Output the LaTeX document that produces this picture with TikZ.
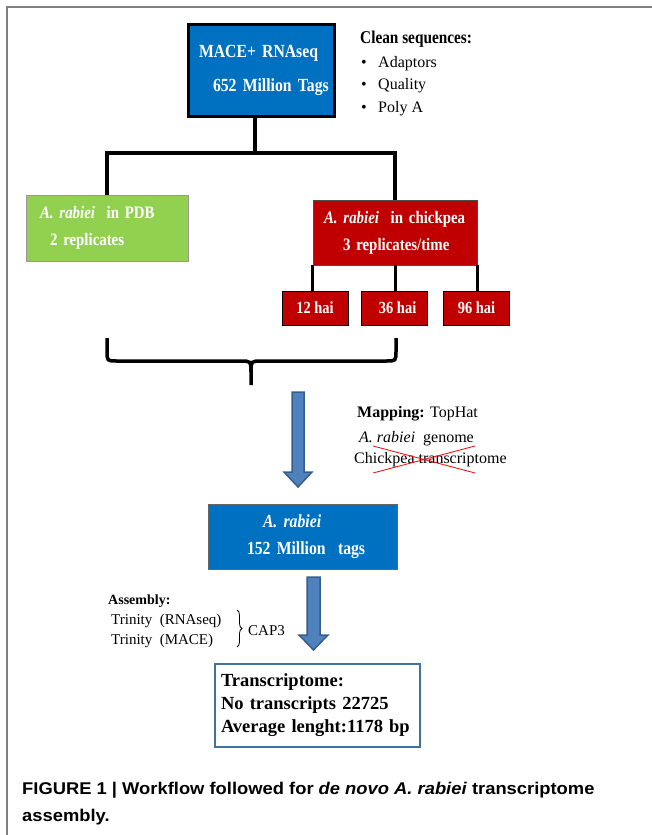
\documentclass[tikz,border=0pt]{standalone}
\usepackage{fontspec}
\setmainfont{Liberation Serif}
\newfontfamily\boxfont[FakeStretch=0.85]{Liberation Serif}
\newfontfamily\capfont[FakeStretch=1.08]{Liberation Sans}
\usetikzlibrary{calc,decorations.pathreplacing}
\definecolor{maceblue}{HTML}{0070C0}
\definecolor{pdbgreen}{HTML}{92D050}
\definecolor{chickred}{HTML}{C00000}
\definecolor{arrfill}{HTML}{4F81BD}
\definecolor{arrdraw}{HTML}{385D8A}
\definecolor{tombox}{HTML}{41719C}
\def\rab{\textit{A. rabiei}}
\newcommand\fatarrow[3]{\filldraw[fat] let \p1=(#1), \p2=(#2) in
  (\x1-#3pt,\y1) -- (\x1+#3pt,\y1) -- (\x1+#3pt,\y2+15pt) -- (\x1+#3pt+8pt,\y2+15pt)
  -- (\x2,\y2) -- (\x1-#3pt-8pt,\y2+15pt) -- (\x1-#3pt,\y2+15pt) -- cycle;}

\begin{document}
\begin{tikzpicture}[x=1pt,y=-1pt,
  box/.style={minimum height=#1,inner ysep=0pt,align=left,text=white},
  hai/.style={fill=chickred,draw=black,line width=1pt,minimum width=66pt,minimum height=34pt,
    inner sep=0pt,text=white,font=\boxfont\fontsize{17}{18}\bfseries\selectfont},
  tree/.style={line width=4pt},
  curly/.style={line width=3.5pt},
  fat/.style={fill=arrfill,draw=arrdraw,line width=1.5pt},
  txt/.style={anchor=base west,inner sep=0pt,font=\fontsize{16}{18}\selectfont}]
  \useasboundingbox (0,0) rectangle (652,835);
  \draw[gray,line width=1.5pt] (7,835) -- (7,7) -- (652,7);
  \node[box=92pt,fill=maceblue,draw=black,line width=3pt,text width=124pt,inner xsep=11pt,
    font=\boxfont\fontsize{18.5}{34}\bfseries\selectfont] (mace) at (261,70)
  {\mbox{MACE+ RNAseq}\\\mbox{\hspace*{14pt}652 Million Tags}};
  \node[txt,font=\boxfont\fontsize{18}{18}\bfseries\selectfont] (clean) at (360,43) {Clean sequences:};
  \foreach \t [count=\i] in {Adaptors,Quality,Poly A} {
    \node[txt] (dot\i) at (361,44.5+\i*22.5) {\textbullet};
    \node[txt] (item\i) at (378,44.5+\i*22.5) {\t}; }
  \node[box=66pt,fill=pdbgreen,draw=black!40,line width=0.8pt,text width=134pt,inner xsep=14pt,
    font=\boxfont\fontsize{17.5}{27}\bfseries\selectfont] (pdb) at (107,228)
  {\mbox{\rab\ \ in PDB}\\\mbox{\hspace*{10pt}2 replicates}};
  \node[box=65pt,fill=chickred,draw=black!70,line width=0.8pt,text width=142pt,inner xsep=11pt,
    font=\boxfont\fontsize{17.5}{27}\bfseries\selectfont] (chick) at (395,232.5)
  {\mbox{\rab\ \ in chickpea}\\\mbox{\hspace*{19pt}3 replicates/time}};
  \coordinate (split) at (255,153);
  \draw[tree] (split |- mace.south) -- (split);
  \draw[tree] (pdb.north) |- (split) -| (chick.north);
  \foreach \n/\x/\t in {h12/315/12 hai,h36/394/\ \ 36 hai,h96/476.5/96 hai}
  \node[hai] (\n) at (\x,308) {\t};
  \foreach \a/\n in {south west/h12,south/h36,south east/h96}
  \draw[tree,line width=3pt] (chick.\a) -- (chick.\a |- \n.north);
  \draw[curly] (107,338) -- (107,351) .. controls (107,361) .. (117,361) -- (240,361)
  .. controls (251,361) .. (251,372) -- (251,385);
  \draw[curly] (396,338) -- (396,351) .. controls (396,361) .. (386,361) -- (262,361)
  .. controls (251,361) .. (251,372);
  \coordinate (a1s) at (298,392); \coordinate (a1e) at (298,487);
  \fatarrow{a1s}{a1e}{6}
  \node[txt] (map) at (357,417) {\textbf{Mapping:} TopHat};
  \node[txt] (genome) at (359,442) {\rab\ \ genome};
  \node[txt] (chtr) at (354,463) {Chickpea transcriptome};
  \draw[red,line width=0.8pt] (373,446) -- (475,473) (373,473) -- (475,446);
  \node[box=65pt,fill=maceblue,draw=black!60,line width=0.8pt,text width=111pt,inner xsep=39pt,
    font=\boxfont\fontsize{18.5}{27}\bfseries\selectfont] (tags) at (302.5,536.5)
  {\mbox{\hspace*{16pt}\rab}\\\mbox{152 Million\ \ tags}};
  \coordinate (a2s) at (313.5,577); \coordinate (a2e) at (313.5,650);
  \fatarrow{a2s}{a2e}{6.5}
  \node[txt,font=\fontsize{14}{16}\bfseries\selectfont] (asm) at (108,604) {Assembly:};
  \node[txt,font=\fontsize{15}{18}\selectfont] (trr) at (111,624) {Trinity\ \ (RNAseq)};
  \node[txt,font=\fontsize{15}{18}\selectfont] (trm) at (111,644) {Trinity\ \ (MACE)};
  \draw[decorate,decoration={brace,amplitude=5pt},line width=0.8pt] (237,610) -- (237,647);
  \node[txt,font=\fontsize{15}{18}\selectfont] (cap) at (248,635) {CAP3};
  \node[box=83pt,draw=tombox,fill=white,line width=2.5pt,text=black,text width=193pt,inner xsep=6pt,
    font=\fontsize{18.5}{23}\bfseries\selectfont] (trome) at (317.5,705.5)
  {Transcriptome:\\No transcripts 22725\\Average lenght:1178 bp};
  \node[txt,font=\capfont\fontsize{17}{20}\bfseries\selectfont] (capA) at (22,794)
  {FIGURE 1 | Workflow followed for \textit{de novo A. rabiei} transcriptome};
  \node[txt,font=\capfont\fontsize{17}{20}\bfseries\selectfont] (capB) at (22,821) {assembly.};
\end{tikzpicture}
\end{document}
